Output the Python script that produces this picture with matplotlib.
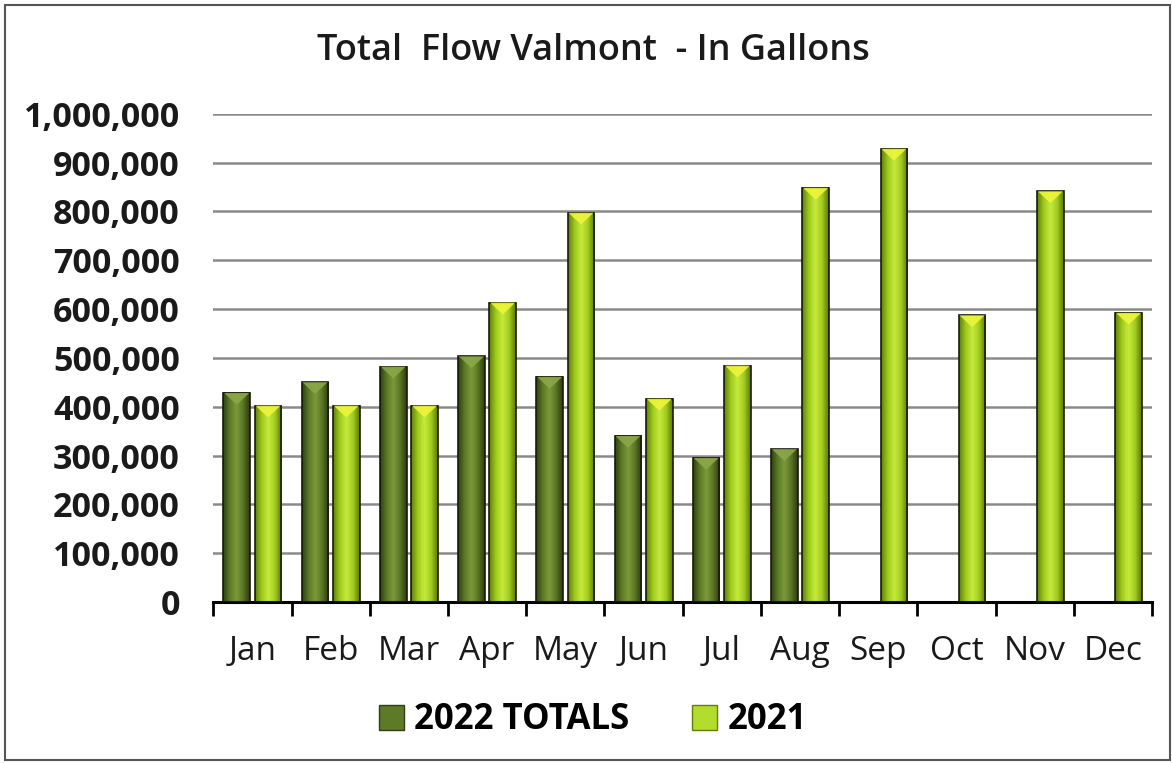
import numpy as np
import matplotlib
matplotlib.use("Agg")
import matplotlib.pyplot as plt
from matplotlib.colors import LinearSegmentedColormap
from matplotlib.patches import Rectangle, Polygon
from matplotlib.ticker import FuncFormatter, FixedLocator

plt.rcParams['font.family'] = ['Open Sans', 'DejaVu Sans']

# ---- data (gallons) ----
months = ['Jan', 'Feb', 'Mar', 'Apr', 'May', 'Jun',
          'Jul', 'Aug', 'Sep', 'Oct', 'Nov', 'Dec']
totals_2022 = [428000, 450000, 482000, 503000, 461000, 340000,
               295000, 313000, None, None, None, None]
totals_2021 = [402000, 402000, 402000, 613000, 797000, 416000,
               484000, 848000, 928000, 587000, 841000, 592000]
series_names = ['2022 TOTALS', '2021']

# colours: edge-dark, mid-light for each series
cmap_2022 = LinearSegmentedColormap.from_list(
    'g22', ['#2f4012', '#5d7a26', '#7c9a3a', '#5a7524', '#2c3b10'])
cmap_2021 = LinearSegmentedColormap.from_list(
    'g21', ['#5f7f0a', '#9fcb1c', '#c6ea3c', '#a2cc20', '#5a7a08'])
tip_2022 = '#8aa84a'
tip_2021 = '#eef53a'

fig = plt.figure(figsize=(11.72, 7.63), dpi=100)
fig.patch.set_facecolor('white')
# outer frame of the chart
fig.add_artist(Rectangle((0.004, 0.004), 0.994, 0.99, transform=fig.transFigure,
                         fill=False, edgecolor='#555555', linewidth=1.5))

ax = fig.add_axes([0.182, 0.211, 0.801, 0.640])

width = 0.34
offset = 0.2
grad = np.linspace(0, 1, 64).reshape(1, -1)


def draw_bar(x_c, h, cmap, tip):
    x0, x1 = x_c - width / 2, x_c + width / 2
    ax.imshow(grad, cmap=cmap, extent=(x0, x1, 0, h), aspect='auto',
              zorder=2, interpolation='bilinear')
    ax.add_patch(Rectangle((x0, 0), width, h, fill=False,
                           edgecolor='#1a1a0a', linewidth=1.2, zorder=3))
    depth = 24000
    ax.add_patch(Polygon([(x0 + 0.01, h), (x1 - 0.01, h), (x_c, h - depth)],
                         closed=True, facecolor=tip, edgecolor='none',
                         alpha=0.9, zorder=3))


for i, (a, b) in enumerate(zip(totals_2022, totals_2021)):
    if a is not None:
        draw_bar(i - offset, a, cmap_2022, tip_2022)
    if b is not None:
        draw_bar(i + offset, b, cmap_2021, tip_2021)

ax.set_xlim(-0.5, len(months) - 0.5)
ax.set_ylim(0, 1000000)

ax.yaxis.set_major_locator(FixedLocator(np.arange(0, 1000001, 100000)))
ax.yaxis.set_major_formatter(FuncFormatter(lambda v, p: f'{int(v):,}'))
ax.grid(axis='y', color='#8a8a8a', linewidth=1.8)
ax.set_axisbelow(True)

# tick marks between months, labels at month centres
ax.set_xticks(np.arange(-0.5, len(months), 1.0))
ax.set_xticklabels([])
ax.set_xticks(np.arange(len(months)), minor=True)
ax.set_xticklabels(months, minor=True, fontsize=24, color='#1a1a1a')
ax.tick_params(axis='x', which='major', length=10, width=2, color='black', direction='out')
ax.tick_params(axis='x', which='minor', length=0, pad=24)
ax.tick_params(axis='y', length=0, pad=24, labelsize=24.5)
for lab in ax.get_yticklabels():
    lab.set_fontweight('bold')
    lab.set_color('#1a1a1a')

for s in ['top', 'right', 'left']:
    ax.spines[s].set_visible(False)
ax.spines['bottom'].set_linewidth(2.2)
ax.spines['bottom'].set_color('black')

fig.text(0.506, 0.933, 'Total  Flow Valmont  - In Gallons', ha='center', va='center',
         fontsize=26, fontweight='semibold', color='#1a1a1a')

handles = [Rectangle((0, 0), 1, 1, facecolor='#5d7a26', edgecolor='#2f4012'),
           Rectangle((0, 0), 1, 1, facecolor='#b4dc2c', edgecolor='#5f7f0a')]
fig.legend(handles, series_names, loc='center', bbox_to_anchor=(0.506, 0.056),
           ncol=2, frameon=False, prop={'size': 25, 'weight': 'bold'},
           handlelength=0.72, handleheight=0.72, handletextpad=0.3, columnspacing=1.8)

fig.savefig('out.png', dpi=100)
